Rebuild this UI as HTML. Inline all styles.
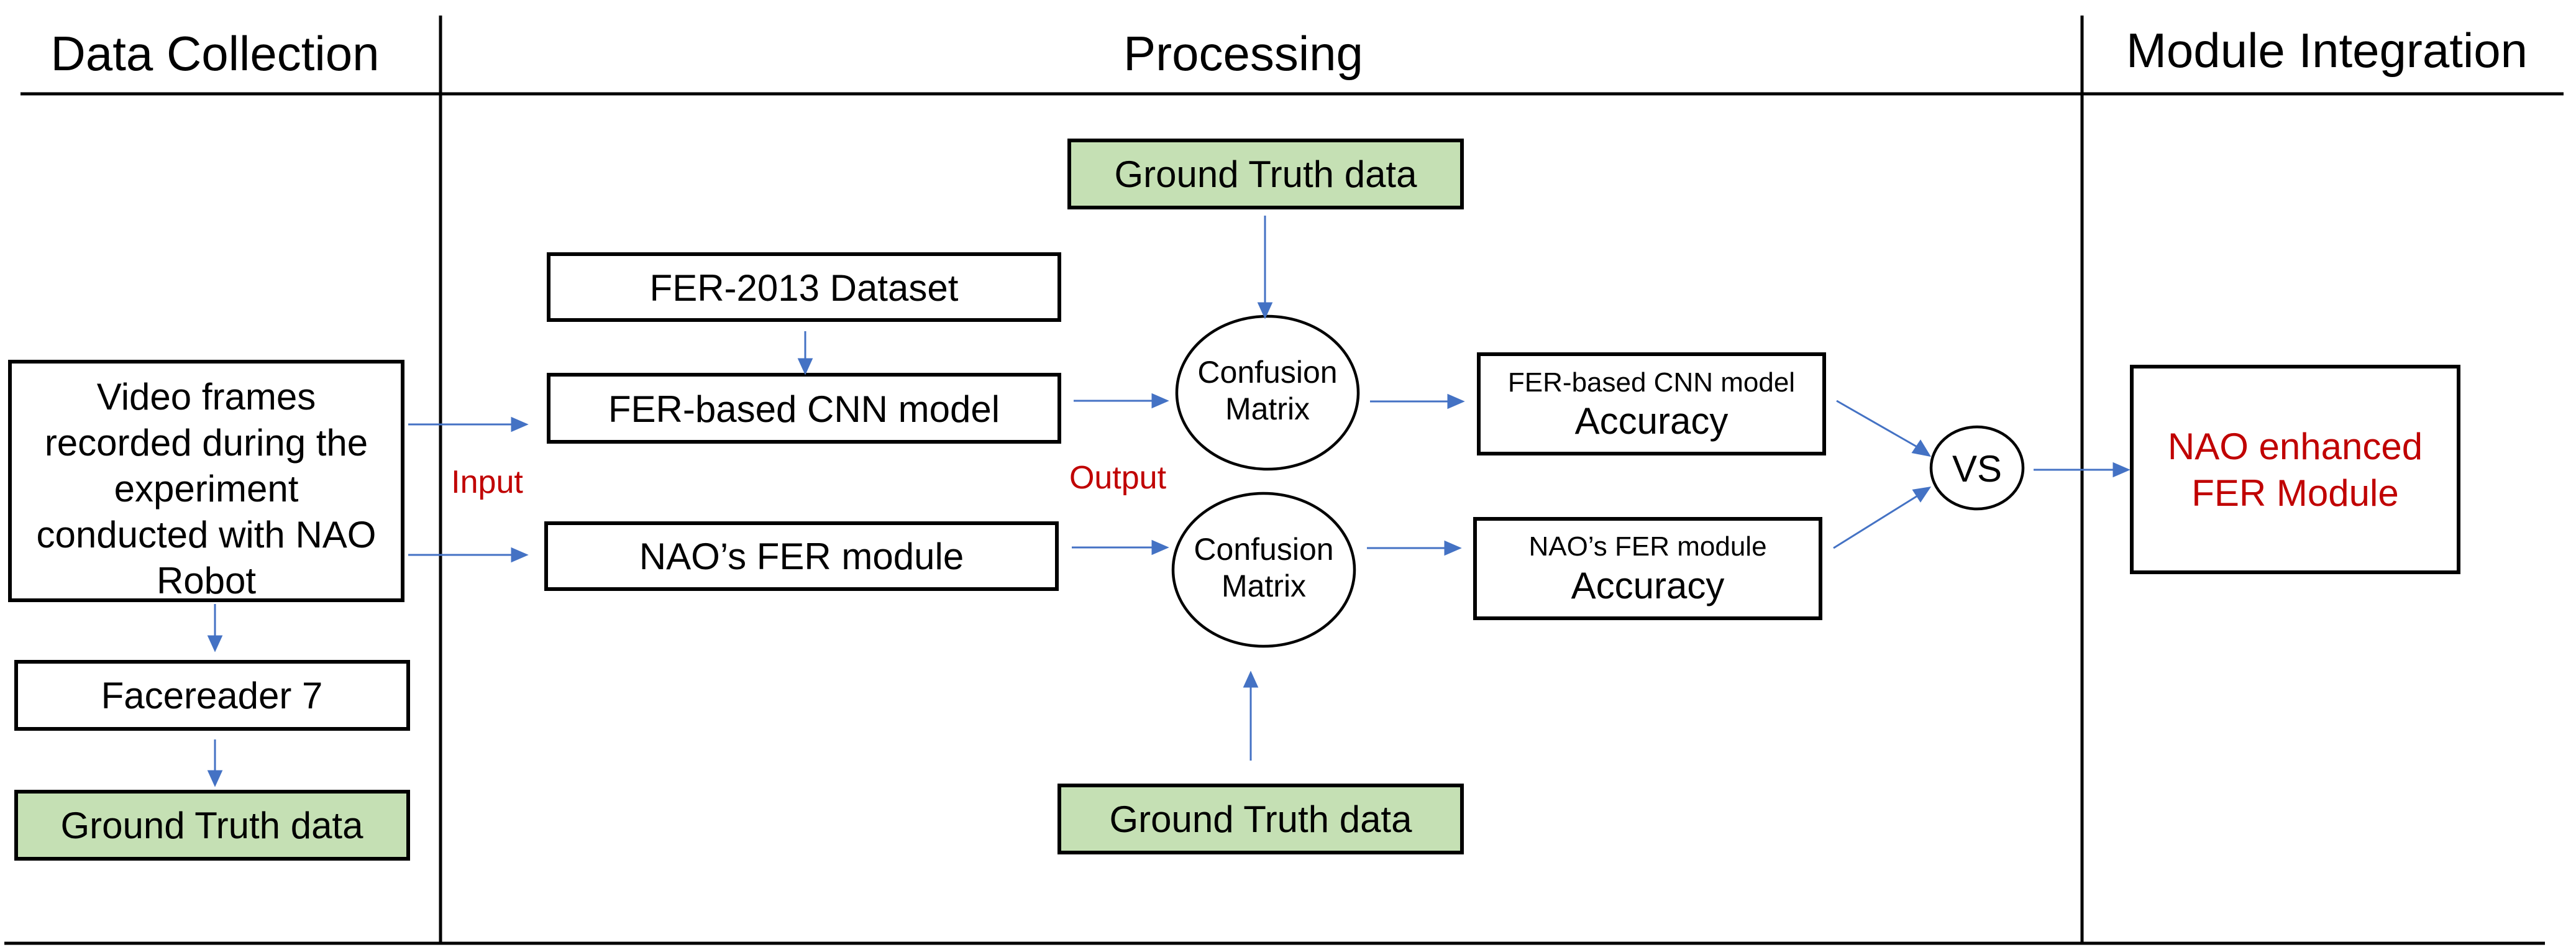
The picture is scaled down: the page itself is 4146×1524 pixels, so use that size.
<!DOCTYPE html>
<html><head><meta charset="utf-8"><style>
html,body{margin:0;padding:0;background:#fff;}
svg{display:block;}
text{font-family:"Liberation Sans",Arial,sans-serif;}
</style></head><body>
<svg width="4146" height="1524" viewBox="0 0 4146 1524" xmlns="http://www.w3.org/2000/svg">
<defs>
<marker id="a" markerWidth="8" markerHeight="8" refX="7" refY="4" orient="auto" markerUnits="userSpaceOnUse" viewBox="0 0 8 8">
</marker>
</defs>
<g stroke="#000" stroke-width="5" fill="none">
<line x1="33" y1="151" x2="4126" y2="151"/>
<line x1="7" y1="1518" x2="4096" y2="1518"/>
<line x1="709" y1="25" x2="709" y2="1518"/>
<line x1="3351" y1="25" x2="3351" y2="1518"/>
</g>
<g font-size="78" fill="#000" text-anchor="middle">
<text x="346" y="113">Data Collection</text>
<text x="2001" y="113">Processing</text>
<text x="3745" y="108">Module Integration</text>
</g>
<g stroke="#000" stroke-width="6" fill="#fff">
<rect x="16" y="582" width="632" height="384"/>
<rect x="26" y="1065" width="631" height="108"/>
<rect x="26" y="1274" width="631" height="108" fill="#c5e0b4"/>
<rect x="883" y="409" width="822" height="106"/>
<rect x="883" y="603" width="822" height="108"/>
<rect x="879" y="842" width="822" height="106"/>
<rect x="1721" y="226" width="632" height="108" fill="#c5e0b4"/>
<rect x="1705" y="1264" width="648" height="108" fill="#c5e0b4"/>
<rect x="2380" y="570" width="556" height="160"/>
<rect x="2374" y="835" width="556" height="160"/>
<rect x="3431" y="590" width="526" height="331"/>
</g>
<g stroke="#000" stroke-width="4.5" fill="#fff">
<ellipse cx="2040" cy="632" rx="146" ry="123"/>
<ellipse cx="2034" cy="917" rx="146" ry="123"/>
<ellipse cx="3182" cy="753" rx="74" ry="66"/>
</g>
<g font-size="60" fill="#000" text-anchor="middle">
<text x="332" y="659">Video frames</text>
<text x="332" y="733">recorded during the</text>
<text x="332" y="807">experiment</text>
<text x="332" y="881">conducted with NAO</text>
<text x="332" y="955">Robot</text>
<text x="341" y="1140">Facereader 7</text>
<text x="341" y="1349">Ground Truth data</text>
<text x="1294" y="484">FER-2013 Dataset</text>
<text x="1294" y="679">FER-based CNN model</text>
<text x="1290" y="916">NAO’s FER module</text>
<text x="2037" y="301">Ground Truth data</text>
<text x="2029" y="1339">Ground Truth data</text>
<text x="2658" y="698">Accuracy</text>
<text x="2652" y="963">Accuracy</text>
<text x="3182" y="775">VS</text>
</g>
<g font-size="50" fill="#000" text-anchor="middle">
<text x="2040" y="616">Confusion</text>
<text x="2040" y="675">Matrix</text>
<text x="2034" y="901">Confusion</text>
<text x="2034" y="960">Matrix</text>
</g>
<g font-size="44" fill="#000" text-anchor="middle">
<text x="2658" y="630">FER-based CNN model</text>
<text x="2652" y="894">NAO’s FER module</text>
</g>
<g font-size="52" fill="#c00000" text-anchor="middle">
<text x="784" y="793">Input</text>
<text x="1799" y="786">Output</text>
</g>
<g font-size="60" fill="#c00000" text-anchor="middle">
<text x="3694" y="739">NAO enhanced</text>
<text x="3694" y="814">FER Module</text>
</g>
<g stroke="#4472c4" stroke-width="3" fill="#4472c4">
<line x1="346" y1="972" x2="346" y2="1026"/><polygon points="336,1024 356,1024 346,1046"/>
<line x1="346" y1="1190" x2="346" y2="1243"/><polygon points="336,1241 356,1241 346,1263"/>
<line x1="1296" y1="533" x2="1296" y2="580"/><polygon points="1286,578 1306,578 1296,600"/>
<line x1="657" y1="683" x2="826" y2="683"/><polygon points="824,673 824,693 847,683"/>
<line x1="657" y1="893" x2="826" y2="893"/><polygon points="824,883 824,903 847,893"/>
<line x1="1728" y1="645" x2="1857" y2="645"/><polygon points="1855,635 1855,655 1878,645"/>
<line x1="1725" y1="881" x2="1857" y2="881"/><polygon points="1855,871 1855,891 1878,881"/>
<line x1="2036" y1="347" x2="2036" y2="490"/><polygon points="2026,488 2046,488 2036,510"/>
<line x1="2013" y1="1224" x2="2013" y2="1103"/><polygon points="2003,1105 2023,1105 2013,1083"/>
<line x1="2205" y1="646" x2="2333" y2="646"/><polygon points="2331,636 2331,656 2354,646"/>
<line x1="2200" y1="882" x2="2328" y2="882"/><polygon points="2326,872 2326,892 2349,882"/>
<line x1="2956" y1="645" x2="3087" y2="720"/><polygon points="3079,728 3091,710 3105,733"/>
<line x1="2951" y1="882" x2="3086" y2="798"/><polygon points="3080,789 3091,806 3105,785"/>
<line x1="3273" y1="756" x2="3404" y2="756"/><polygon points="3402,746 3402,766 3425,756"/>
</g>
</svg>
</body></html>
